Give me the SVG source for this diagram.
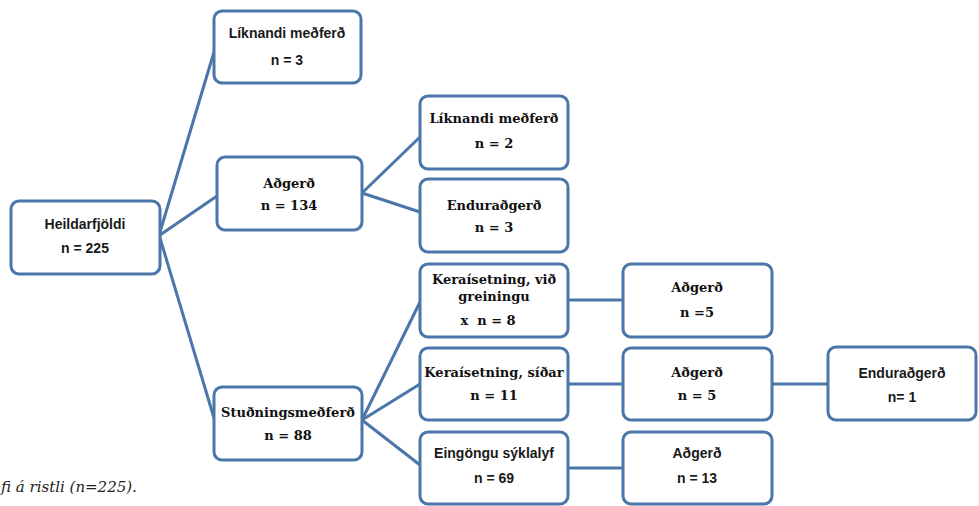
<svg xmlns="http://www.w3.org/2000/svg" width="979" height="506" viewBox="0 0 979 506">
<style>
.box{fill:#fff;stroke:#4a76aa;stroke-width:3}
.ln{stroke:#4a76aa;stroke-width:3;fill:none}
.c{font-family:"Liberation Sans",Arial,sans-serif;font-size:14px;font-weight:bold;fill:#1a1a1a;text-anchor:middle}
.t{font-family:"DejaVu Serif",serif;font-size:13px;font-weight:bold;fill:#111;text-anchor:middle}
.cap{font-family:"DejaVu Serif",serif;font-size:15px;font-style:italic;fill:#222}
</style>
<rect width="979" height="506" fill="#fff"/>
<g id="connectors">
<line class="ln" x1="160" y1="232" x2="214" y2="52"/>
<line class="ln" x1="160" y1="235" x2="217" y2="196"/>
<line class="ln" x1="160" y1="238" x2="214" y2="418"/>
<line class="ln" x1="362" y1="193" x2="420" y2="137"/>
<line class="ln" x1="362" y1="193" x2="420" y2="212"/>
<line class="ln" x1="362" y1="420" x2="420" y2="302"/>
<line class="ln" x1="362" y1="420" x2="420" y2="384"/>
<line class="ln" x1="362" y1="420" x2="420" y2="465"/>
<line class="ln" x1="568" y1="300" x2="623" y2="300"/>
<line class="ln" x1="568" y1="384" x2="623" y2="384"/>
<line class="ln" x1="568" y1="468" x2="623" y2="468"/>
<line class="ln" x1="772" y1="384" x2="828" y2="384"/>
</g>
<g id="heildarfjoldi"><rect class="box" x="11" y="201" width="149" height="73" rx="8"/>
<text class="c" x="85" y="229">Heildarfjöldi</text><text class="c" x="85" y="253">n = 225</text></g>
<g id="liknandi1"><rect class="box" x="214" y="11" width="147" height="72" rx="8"/>
<text class="c" x="287" y="38">Líknandi meðferð</text><text class="c" x="287" y="65">n = 3</text></g>
<g id="adgerd134"><rect class="box" x="217" y="157" width="145" height="73" rx="8"/>
<text class="t" x="289" y="188">Aðgerð</text><text class="t" x="289" y="210">n = 134</text></g>
<g id="studnings"><rect class="box" x="214" y="387" width="148" height="73" rx="8"/>
<text class="t" x="288" y="417">Stuðningsmeðferð</text><text class="t" x="288" y="440">n = 88</text></g>
<g id="liknandi2"><rect class="box" x="420" y="96" width="148" height="73" rx="8"/>
<text class="t" x="494" y="123">Líknandi meðferð</text><text class="t" x="494" y="148">n = 2</text></g>
<g id="endur3"><rect class="box" x="420" y="179" width="148" height="73" rx="8"/>
<text class="t" x="494" y="210">Enduraðgerð</text><text class="t" x="494" y="232">n = 3</text></g>
<g id="kera1"><rect class="box" x="420" y="264" width="148" height="73" rx="8"/>
<text class="t" x="494" y="284">Keraísetning, við</text><text class="t" x="494" y="301">greiningu</text><text class="t" x="488" y="325" xml:space="preserve">x  n = 8</text></g>
<g id="kera2"><rect class="box" x="420" y="348" width="148" height="72" rx="8"/>
<text class="t" x="494" y="377">Keraísetning, síðar</text><text class="t" x="494" y="400">n = 11</text></g>
<g id="eingongu"><rect class="box" x="420" y="432" width="148" height="72" rx="8"/>
<text class="c" x="494" y="458">Eingöngu sýklalyf</text><text class="c" x="494" y="483">n = 69</text></g>
<g id="adgerd5a"><rect class="box" x="623" y="264" width="149" height="73" rx="8"/>
<text class="t" x="697" y="292">Aðgerð</text><text class="t" x="697" y="317">n =5</text></g>
<g id="adgerd5b"><rect class="box" x="623" y="348" width="149" height="72" rx="8"/>
<text class="t" x="697" y="377">Aðgerð</text><text class="t" x="697" y="400">n = 5</text></g>
<g id="adgerd13"><rect class="box" x="623" y="432" width="149" height="72" rx="8"/>
<text class="c" x="697" y="458">Aðgerð</text><text class="c" x="697" y="483">n = 13</text></g>
<g id="endur1"><rect class="box" x="828" y="347" width="148" height="73" rx="8"/>
<text class="c" x="902" y="378">Enduraðgerð</text><text class="c" x="902" y="402">n= 1</text></g>
<text class="cap" x="1" y="492">fi á ristli (n=225).</text>
</svg>
